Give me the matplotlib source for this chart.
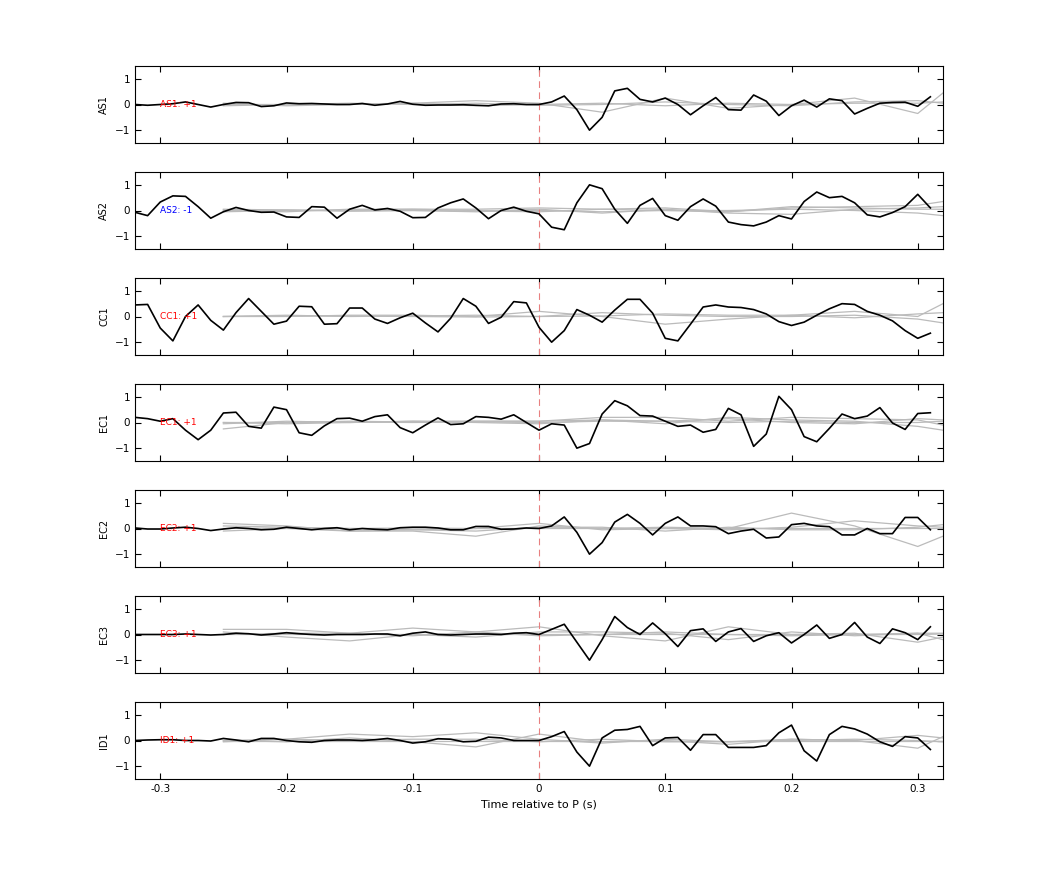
import numpy as np
import matplotlib
matplotlib.use("Agg")
import matplotlib.pyplot as plt

time = np.round(np.arange(-0.32, 0.315, 0.01), 2)
gray_time = [-0.25, -0.2, -0.15, -0.1, -0.05, 0.0, 0.05, 0.1, 0.15, 0.2, 0.25, 0.3, 0.32]

stations = ["AS1", "AS2", "CC1", "EC1", "EC2", "EC3", "ID1"]
polarity = ["+1", "-1", "+1", "+1", "+1", "+1", "+1"]

AS1 = [0, -0.03, 0, 0.03, 0.1, 0, -0.1, 0, 0.08, 0.07, -0.08, -0.05, 0.06, 0.03, 0.04, 0.02,
       0, 0, 0.04, -0.03, 0.02, 0.12, 0.01, -0.03, -0.02, -0.02, -0.01, -0.03, -0.05, 0.02, 0.03, 0, 0,
       0.1, 0.33, -0.2, -1.0, -0.5, 0.53, 0.63, 0.2, 0.1, 0.25, 0.0, -0.4, -0.05, 0.27, -0.2, -0.22,
       0.37, 0.13, -0.43, -0.05, 0.17, -0.1, 0.22, 0.15, -0.37, -0.15, 0.05, 0.08, 0.09, -0.07, 0.3]
AS2 = [-0.07, -0.2, 0.33, 0.57, 0.55, 0.15, -0.3, -0.05, 0.12, 0.0, -0.07, -0.06, -0.25, -0.27, 0.15, 0.13,
       -0.3, 0.05, 0.2, 0.02, 0.08, -0.03, -0.28, -0.27, 0.1, 0.3, 0.45, 0.1, -0.32, 0.0, 0.13, -0.03, -0.13,
       -0.65, -0.75, 0.3, 1.0, 0.85, 0.05, -0.5, 0.2, 0.47, -0.2, -0.38, 0.15, 0.45, 0.17, -0.45, -0.55,
       -0.6, -0.45, -0.2, -0.33, 0.35, 0.72, 0.5, 0.55, 0.3, -0.17, -0.25, -0.08, 0.15, 0.63, 0.1]
CC1 = [0.45, 0.47, -0.45, -0.95, 0.0, 0.45, -0.15, -0.53, 0.15, 0.7, 0.2, -0.3, -0.18, 0.4, 0.38, -0.3,
       -0.28, 0.33, 0.33, -0.1, -0.27, -0.05, 0.13, -0.25, -0.6, -0.07, 0.7, 0.4, -0.27, -0.03, 0.58, 0.53, -0.42,
       -1.0, -0.55, 0.27, 0.05, -0.22, 0.25, 0.67, 0.67, 0.13, -0.85, -0.95, -0.3, 0.37, 0.45, 0.37, 0.35,
       0.27, 0.1, -0.2, -0.35, -0.22, 0.05, 0.3, 0.5, 0.47, 0.2, 0.05, -0.17, -0.55, -0.85, -0.65]
EC1 = [0.2, 0.15, 0.05, 0.15, -0.3, -0.67, -0.3, 0.37, 0.4, -0.15, -0.22, 0.6, 0.5, -0.4, -0.5, -0.13,
       0.15, 0.17, 0.05, 0.23, 0.3, -0.2, -0.4, -0.1, 0.18, -0.08, -0.05, 0.23, 0.2, 0.13, 0.3, 0.0, -0.3,
       -0.05, -0.1, -1.0, -0.82, 0.33, 0.85, 0.65, 0.27, 0.25, 0.05, -0.15, -0.1, -0.38, -0.27, 0.55, 0.3,
       -0.93, -0.45, 1.02, 0.5, -0.55, -0.75, -0.23, 0.33, 0.15, 0.25, 0.58, -0.02, -0.27, 0.35, 0.38]
EC2 = [0.02, -0.02, -0.02, 0.02, 0.05, 0.0, -0.08, -0.02, 0.03, 0.0, -0.05, -0.03, 0.05, 0.0, -0.05, 0.0,
       0.03, -0.05, 0.0, -0.03, -0.05, 0.03, 0.05, 0.05, 0.02, -0.05, -0.05, 0.08, 0.08, -0.03, -0.02, 0.02, 0.0,
       0.1, 0.45, -0.15, -1.0, -0.55, 0.25, 0.55, 0.2, -0.25, 0.2, 0.45, 0.1, 0.1, 0.07, -0.2, -0.1,
       -0.03, -0.37, -0.33, 0.15, 0.2, 0.1, 0.07, -0.25, -0.25, 0.0, -0.2, -0.2, 0.43, 0.43, -0.05]
EC3 = [0.0, 0.0, 0.0, 0.0, 0.02, 0.0, -0.02, 0.0, 0.05, 0.03, -0.02, 0.02, 0.07, 0.03, 0.0, -0.02,
       0.0, 0.0, 0.0, 0.02, 0.02, -0.05, 0.05, 0.1, 0.0, -0.02, 0.0, 0.02, 0.02, 0.0, 0.05, 0.07, 0.0,
       0.2, 0.4, -0.3, -1.0, -0.2, 0.7, 0.27, 0.0, 0.45, 0.03, -0.47, 0.15, 0.22, -0.27, 0.1, 0.23,
       -0.27, -0.05, 0.07, -0.33, 0.0, 0.37, -0.15, 0.0, 0.47, -0.1, -0.35, 0.22, 0.07, -0.2, 0.3]
ID1 = [0.0, 0.02, 0.03, 0.03, 0.0, 0.0, -0.02, 0.08, 0.02, -0.05, 0.08, 0.08, 0.0, -0.05, -0.07, 0.0,
       0.02, 0.02, 0.0, 0.03, 0.08, 0.0, -0.1, -0.05, 0.07, 0.05, -0.05, -0.03, 0.13, 0.1, 0.0, 0.0, 0.0,
       0.15, 0.35, -0.45, -1.0, 0.1, 0.4, 0.43, 0.55, -0.2, 0.1, 0.12, -0.38, 0.23, 0.23, -0.27, -0.27,
       -0.27, -0.2, 0.3, 0.6, -0.4, -0.8, 0.23, 0.55, 0.45, 0.25, -0.05, -0.23, 0.15, 0.1, -0.35]

# smooth gray traces (other events), sampled at gray_time
AS1_gray = [[0, 0, 0.02, 0.05, 0.15, 0.05, -0.3, 0.25, -0.15, 0.0, 0.25, -0.35, 0.45],
            [0.05, -0.05, 0, 0.05, -0.05, 0, 0.05, -0.05, 0.05, 0, 0.05, 0.05, 0.1],
            [-0.05, 0, 0.05, 0, 0.05, -0.03, 0, 0.1, 0, -0.05, 0.1, 0.15, 0.05]]
AS2_gray = [[-0.05, 0, 0.02, 0.05, 0.05, 0.1, 0.05, 0.1, -0.05, 0.1, 0.15, 0.2, 0.35],
            [0.05, 0.02, -0.02, 0, -0.05, 0.05, -0.1, 0.05, -0.1, -0.15, 0.05, 0.1, 0.15],
            [0, -0.05, 0.05, 0.05, 0, 0, -0.05, 0, 0.0, 0.05, 0, -0.1, -0.2],
            [0.02, 0.02, -0.02, 0, -0.02, -0.05, 0.05, 0, -0.05, 0.15, 0.1, 0.05, 0.05]]
CC1_gray = [[0, 0, 0.05, 0.05, 0.0, 0.2, 0.0, -0.3, -0.1, 0.05, 0.2, 0.0, 0.5],
            [0, 0.05, 0, 0.02, 0.05, 0, 0.15, 0.05, 0, 0.0, 0.05, -0.1, -0.25],
            [0, 0.02, 0.02, 0, -0.02, 0, 0.02, 0.1, 0.05, 0.05, -0.05, 0.1, 0.15]]
EC1_gray = [[-0.25, 0, 0.05, 0.02, 0.05, 0.05, 0.2, 0.2, 0.05, 0.2, 0.15, 0.1, -0.1],
            [0, -0.05, 0, 0.05, 0, -0.05, 0.1, 0.05, 0.15, 0.0, -0.05, 0.15, 0.1],
            [-0.05, 0.05, 0, 0.05, 0.05, 0.05, 0.1, -0.05, 0.2, 0.1, 0.05, -0.15, -0.3],
            [0, 0, 0.02, 0, 0.02, 0, 0.05, 0.05, 0, 0.05, 0, 0, 0.05]]
EC2_gray = [[0.2, 0.1, -0.1, -0.1, -0.3, 0.1, 0.0, 0.05, 0.0, 0.6, 0.1, -0.7, -0.3],
            [0.1, 0.05, 0, -0.05, 0.0, 0.2, -0.05, 0.0, -0.05, 0.05, 0.3, 0.1, 0.05],
            [-0.1, 0.0, -0.1, -0.05, -0.1, 0.05, 0.05, -0.1, 0.05, -0.05, -0.05, 0.05, 0.15],
            [0, 0.02, 0, 0.02, 0, 0, 0, 0, 0, 0, 0, 0, 0]]
EC3_gray = [[0.2, 0.2, 0.05, 0.25, 0.1, 0.3, -0.05, -0.25, 0.3, 0.0, 0.05, -0.3, -0.1],
            [0.1, -0.1, -0.25, 0.0, -0.1, 0.1, 0.1, 0.05, -0.2, 0.1, -0.05, 0.05, 0.05],
            [0, 0.05, 0.05, -0.05, 0.1, -0.05, 0.0, 0.1, 0.0, -0.05, 0.0, 0.05, -0.2],
            [0, 0, 0, 0, 0, 0, 0, 0, 0, 0, 0, 0, 0.02]]
ID1_gray = [[0, 0.05, 0.25, 0.15, 0.3, 0.05, -0.1, 0.05, -0.05, 0.05, 0.0, -0.3, 0.15],
            [0, -0.05, 0.1, -0.05, -0.25, 0.25, -0.05, 0.0, -0.15, 0.05, 0.0, 0.2, 0.1],
            [-0.05, 0.05, 0.0, 0.05, 0.05, -0.05, 0.05, -0.05, -0.05, 0.0, 0.05, 0.0, -0.05],
            [0, 0, 0, 0, 0, 0, 0, 0, 0, 0, 0, 0, 0]]

black = [AS1, AS2, CC1, EC1, EC2, EC3, ID1]
grays = [AS1_gray, AS2_gray, CC1_gray, EC1_gray, EC2_gray, EC3_gray, ID1_gray]

fig = plt.figure(figsize=(10.42, 8.75), dpi=100)
W, H = 1042, 875
tops = [66, 172, 278, 384, 490, 596, 702]
for i, st in enumerate(stations):
    ax = fig.add_axes([135 / W, 1 - (tops[i] + 77) / H, 808 / W, 77 / H])
    for g in grays[i]:
        ax.plot(gray_time, g, color="#bbbbbb", lw=0.9)
    ax.axvline(0, color="#e88080", lw=0.8, ls=(0, (6, 4)))
    ax.plot(time, black[i], color="black", lw=1.2)
    col = "red" if polarity[i] == "+1" else "blue"
    ax.text(-0.30, 0, f"{st}: {polarity[i]}", color=col, fontsize=6.5, va="center", ha="left")
    ax.set_xlim(-0.32, 0.32)
    ax.set_ylim(-1.5, 1.5)
    ax.set_yticks([-1, 0, 1])
    ax.set_xticks([-0.3, -0.2, -0.1, 0, 0.1, 0.2, 0.3])
    ax.tick_params(direction="in", top=True, right=True, labelsize=7.5, length=4)
    ax.set_ylabel(st, fontsize=7)
    if i < len(stations) - 1:
        ax.set_xticklabels([])
    else:
        ax.set_xticklabels(["-0.3", "-0.2", "-0.1", "0", "0.1", "0.2", "0.3"])
        ax.set_xlabel("Time relative to P (s)", fontsize=8)

fig.savefig("out.png", dpi=100)
